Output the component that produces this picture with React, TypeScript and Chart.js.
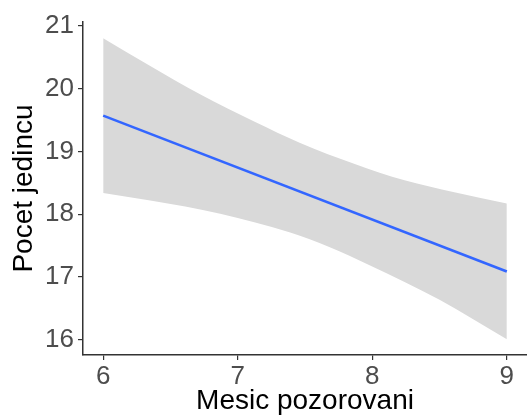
import React, { useEffect, useRef } from "react";
import { Chart, registerables } from "chart.js";

Chart.register(...registerables);

const fitX = [6, 9];
const fitY = [19.57, 17.09];
const upperX = [6.0, 6.35, 6.72, 7.13, 7.46, 7.87, 8.24, 8.61, 9.0];
const upperY = [20.8, 20.36, 19.91, 19.47, 19.14, 18.8, 18.54, 18.35, 18.17];
const lowerX = [6.0, 6.35, 6.87, 7.39, 7.68, 7.98, 8.5, 9.0];
const lowerY = [18.34, 18.22, 18.01, 17.71, 17.48, 17.19, 16.64, 16.01];
const xTicks = [6, 7, 8, 9];
const yTicks = [16, 17, 18, 19, 20, 21];
const xTitle = "Mesic pozorovani";
const yTitle = "Pocet jedincu";

export default function App() {
  const ref = useRef<HTMLCanvasElement | null>(null);
  useEffect(() => {
    document.body.style.margin = "0";
    const ctx = ref.current!;
    const font = "'Liberation Sans', Arial, sans-serif";
    const chart = new Chart(ctx, {
      type: "line",
      data: {
        datasets: [
          {
            label: "fit",
            data: fitX.map((x, i) => ({ x, y: fitY[i] })),
            borderColor: "#3366FF",
            borderWidth: 2.6,
            pointRadius: 0,
            fill: false,
            order: 0,
          },
          {
            label: "upper",
            data: upperX.map((x, i) => ({ x, y: upperY[i] })),
            borderWidth: 0,
            borderColor: "rgba(0,0,0,0)",
            pointRadius: 0,
            backgroundColor: "#D9D9D9",
            fill: "+1",
            cubicInterpolationMode: "monotone",
            order: 1,
          },
          {
            label: "lower",
            data: lowerX.map((x, i) => ({ x, y: lowerY[i] })),
            borderWidth: 0,
            borderColor: "rgba(0,0,0,0)",
            pointRadius: 0,
            backgroundColor: "#D9D9D9",
            fill: false,
            cubicInterpolationMode: "monotone",
            order: 2,
          },
        ],
      },
      options: {
        animation: false,
        responsive: false,
        layout: { padding: { top: 22, right: 0, left: 0, bottom: 0 } },
        plugins: { legend: { display: false }, tooltip: { enabled: false } },
        scales: {
          x: {
            type: "linear",
            min: 5.85,
            max: 9.15,
            afterBuildTicks: (s: any) => {
              s.ticks = xTicks.map((v) => ({ value: v }));
            },
            afterFit: (s: any) => {
              s.height = 63;
            },
            grid: {
              drawOnChartArea: false,
              drawTicks: true,
              tickLength: 5,
              color: "#333333",
              lineWidth: 1.2,
            },
            border: { display: true, color: "#333333", width: 1.5 },
            ticks: {
              color: "#4D4D4D",
              font: { family: font, size: 26 },
              padding: 1,
              maxRotation: 0,
            },
            title: {
              display: true,
              text: xTitle,
              color: "#000000",
              font: { family: font, size: 28 },
              padding: { top: 0, bottom: 0 },
            },
          },
          y: {
            type: "linear",
            min: 15.76,
            max: 21.06,
            afterBuildTicks: (s: any) => {
              s.ticks = yTicks.map((v) => ({ value: v }));
            },
            afterFit: (s: any) => {
              s.width = 83;
            },
            grid: {
              drawOnChartArea: false,
              drawTicks: true,
              tickLength: 5,
              color: "#333333",
              lineWidth: 1.2,
            },
            border: { display: true, color: "#333333", width: 1.5 },
            ticks: {
              color: "#4D4D4D",
              font: { family: font, size: 26 },
              padding: 4,
            },
            title: {
              display: true,
              text: yTitle,
              color: "#000000",
              font: { family: font, size: 28 },
              padding: { top: 7, bottom: 0 },
            },
          },
        },
      },
    });
    return () => chart.destroy();
  }, []);
  return (
    <div style={{ position: "absolute", left: 0, top: 0, width: 527, height: 418 }}>
      <canvas ref={ref} width={527} height={418} style={{ width: 527, height: 418 }} />
    </div>
  );
}
